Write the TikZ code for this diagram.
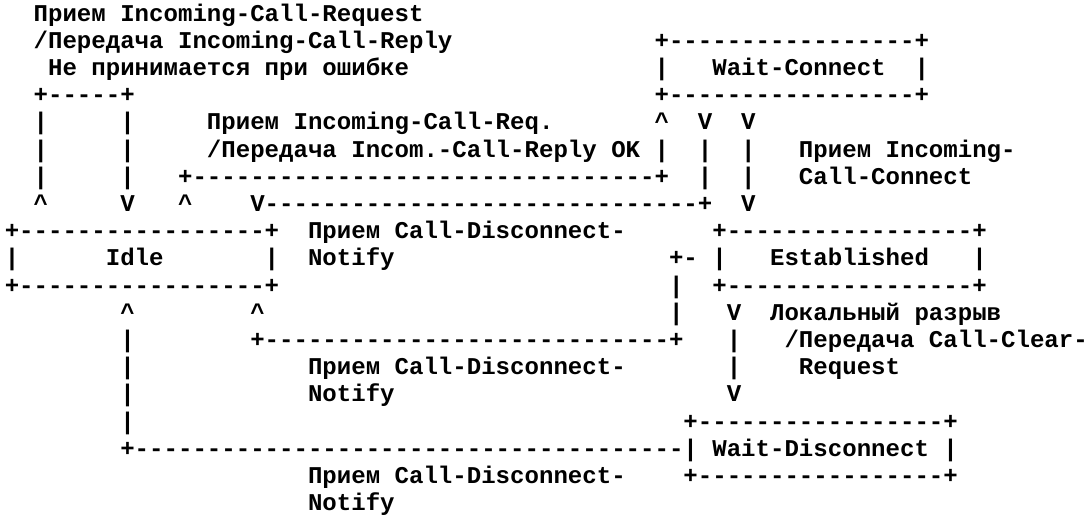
\documentclass[tikz,border=0pt]{standalone}
\usepackage{fontspec}
\setmonofont{Liberation Mono}
\ExplSyntaxOn
\cs_new:Npn \dashrun #1 { \prg_replicate:nn {#1} {-} }
\ExplSyntaxOff
\newcommand\mono{\fontsize{18.05pt}{20pt}\selectfont\ttfamily\bfseries}
\newcommand\ch[4]{\node[txt] (#1) at ({4.78+14.44*#3},{21+27.2*(#2-1)}) {#4};}
\newcommand\crt{\textasciicircum}
\begin{document}
\begin{tikzpicture}[x=0.75pt,y=-0.75pt,
  txt/.style={anchor=base west,inner sep=0pt,outer sep=0pt,font=\mono,text=black}]
\useasboundingbox (0,0) rectangle (1088,515);
% line 1
\ch{t1}{1}{2}{Прием Incoming-Call-Request}
% line 2
\ch{t2}{2}{2}{/Передача Incoming-Call-Reply}
\ch{wcTop}{2}{45}{+\dashrun{17}+}
% line 3
\ch{t3}{3}{3}{Не принимается при ошибке}
\ch{wcL}{3}{45}{|}
\ch{wc}{3}{49}{Wait-Connect}
\ch{wcR}{3}{63}{|}
% line 4
\ch{loopTop}{4}{2}{+\dashrun{5}+}
\ch{wcBot}{4}{45}{+\dashrun{17}+}
% line 5
\ch{v5a}{5}{2}{|}
\ch{v5b}{5}{8}{|}
\ch{t5}{5}{14}{Прием Incoming-Call-Req.}
\ch{a5a}{5}{45}{\crt}
\ch{a5b}{5}{48}{V}
\ch{a5c}{5}{51}{V}
% line 6
\ch{v6a}{6}{2}{|}
\ch{v6b}{6}{8}{|}
\ch{t6}{6}{14}{/Передача Incom.-Call-Reply OK}
\ch{v6c}{6}{45}{|}
\ch{v6d}{6}{48}{|}
\ch{v6e}{6}{51}{|}
\ch{t6b}{6}{55}{Прием Incoming-}
% line 7
\ch{v7a}{7}{2}{|}
\ch{v7b}{7}{8}{|}
\ch{h7}{7}{12}{+\dashrun{32}+}
\ch{v7d}{7}{48}{|}
\ch{v7e}{7}{51}{|}
\ch{t7}{7}{55}{Call-Connect}
% line 8
\ch{a8a}{8}{2}{\crt}
\ch{a8b}{8}{8}{V}
\ch{a8c}{8}{12}{\crt}
\ch{h8}{8}{17}{V\dashrun{30}+}
\ch{a8d}{8}{51}{V}
% line 9
\ch{idTop}{9}{0}{+\dashrun{17}+}
\ch{t9}{9}{21}{Прием Call-Disconnect-}
\ch{esTop}{9}{49}{+\dashrun{17}+}
% line 10
\ch{idL}{10}{0}{|}
\ch{idle}{10}{7}{Idle}
\ch{idR}{10}{18}{|}
\ch{t10}{10}{21}{Notify}
\ch{h10}{10}{46}{+-}
\ch{esL}{10}{49}{|}
\ch{est}{10}{53}{Established}
\ch{esR}{10}{67}{|}
% line 11
\ch{idBot}{11}{0}{+\dashrun{17}+}
\ch{v11}{11}{46}{|}
\ch{esBot}{11}{49}{+\dashrun{17}+}
% line 12
\ch{a12a}{12}{8}{\crt}
\ch{a12b}{12}{17}{\crt}
\ch{v12}{12}{46}{|}
\ch{a12c}{12}{50}{V}
\ch{t12}{12}{53}{Локальный разрыв}
% line 13
\ch{v13a}{13}{8}{|}
\ch{h13}{13}{17}{+\dashrun{28}+}
\ch{v13b}{13}{50}{|}
\ch{t13}{13}{54}{/Передача Call-Clear-}
% line 14
\ch{v14a}{14}{8}{|}
\ch{t14}{14}{21}{Прием Call-Disconnect-}
\ch{v14b}{14}{50}{|}
\ch{t14b}{14}{55}{Request}
% line 15
\ch{v15a}{15}{8}{|}
\ch{t15}{15}{21}{Notify}
\ch{a15}{15}{50}{V}
% line 16
\ch{v16a}{16}{8}{|}
\ch{wdTop}{16}{47}{+\dashrun{17}+}
% line 17
\ch{h17}{17}{8}{+\dashrun{38}}
\ch{wdL}{17}{47}{|}
\ch{wd}{17}{49}{Wait-Disconnect}
\ch{wdR}{17}{65}{|}
% line 18
\ch{t18}{18}{21}{Прием Call-Disconnect-}
\ch{wdBot}{18}{47}{+\dashrun{17}+}
% line 19
\ch{t19}{19}{21}{Notify}
\end{tikzpicture}
\end{document}
